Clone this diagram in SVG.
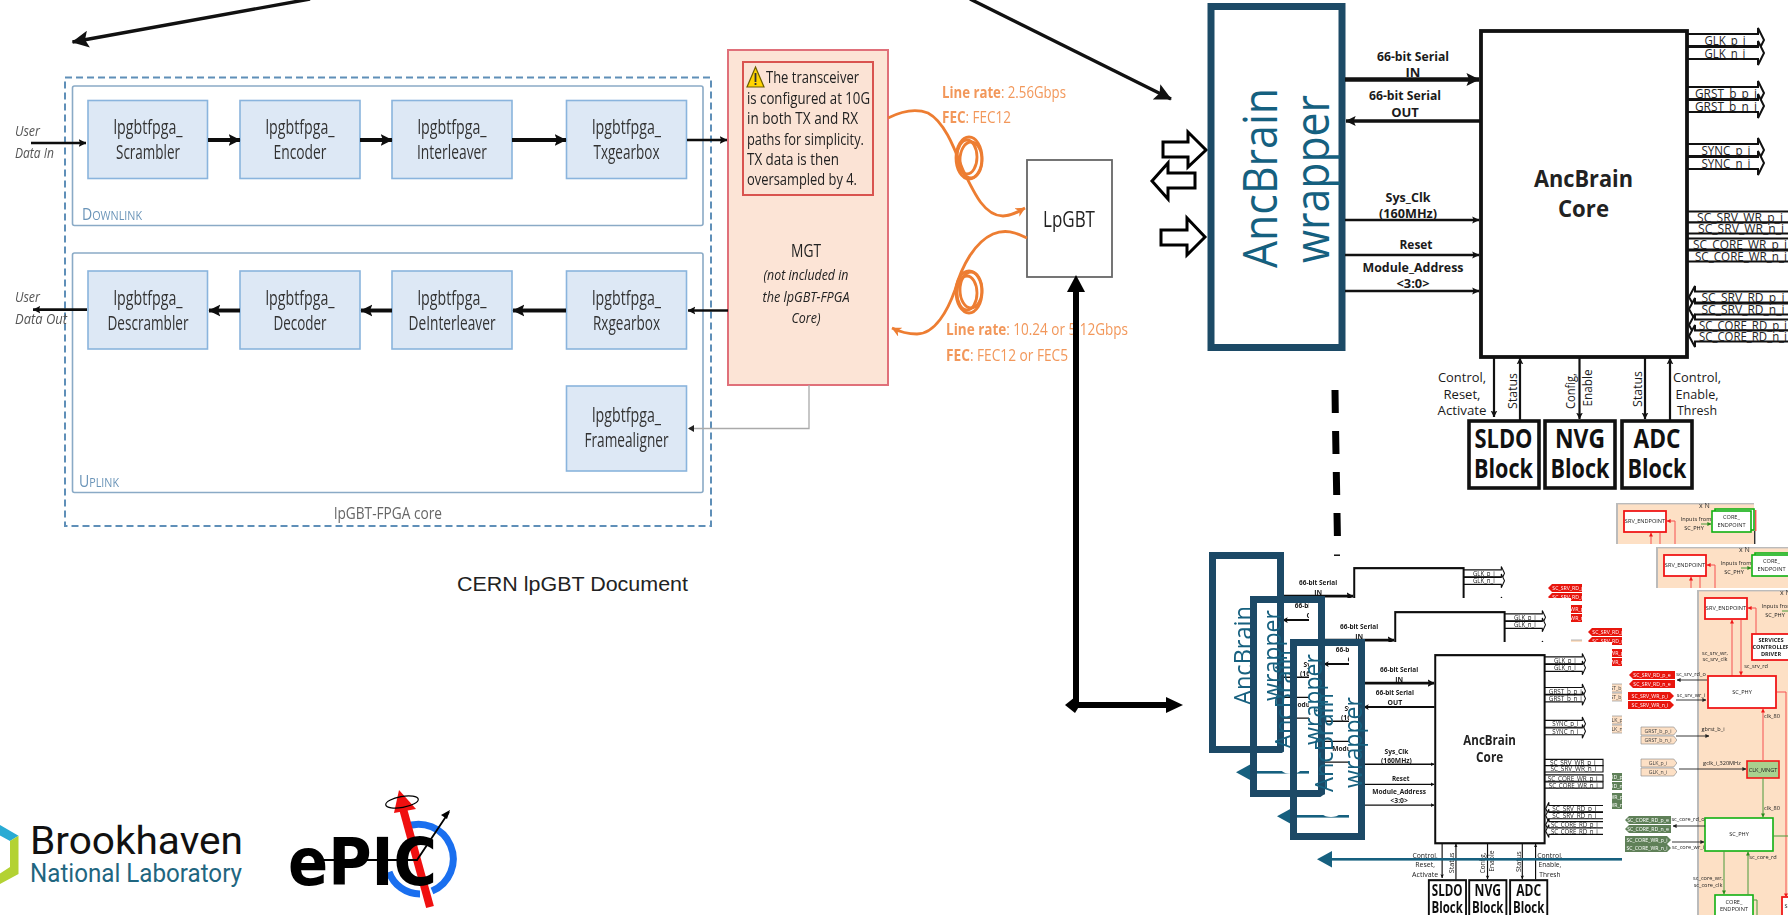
<svg xmlns="http://www.w3.org/2000/svg" width="1788" height="915" viewBox="0 0 1788 915">
<style>
text{font-family:"Open Sans","Liberation Sans",sans-serif;fill:#222}
.m{text-anchor:middle}
.b{font-weight:700}
.i{font-style:italic}
.blk{fill:#dde8f5;stroke:#8ab4dd;stroke-width:1.6}
.blt{font-size:20px;fill:#333;text-anchor:middle}
.arr{stroke:#111;fill:none;stroke-linecap:butt}
.lbl{font-size:13px;font-weight:700;text-anchor:middle;fill:#1a1a1a}
.sig{font-size:12px;text-anchor:middle;fill:#222}
.ha{fill:#fff;stroke:#111;stroke-width:2}
.or{fill:none;stroke:#ed7d31;stroke-width:2.8}
.ort{font-size:16px;fill:#f2975a}
.bk{fill:#fff;stroke:#111;stroke-width:3.6}
.blkt{font-size:27px;font-weight:700;text-anchor:middle;fill:#111}
.wrap{fill:none;stroke:#1c4a66;stroke-width:7}
.wrt{fill:#15607f}
.pn{font-size:5.6px;fill:#222;text-anchor:middle}
.chipt{font-size:5.2px;text-anchor:middle;fill:#fff}
.rd{fill:#fff;stroke:#f01818;stroke-width:1.8}
.gr{fill:#fff;stroke:#12b012;stroke-width:1.6}
.rl{stroke:#f65050;stroke-width:1;fill:none}
.gl{stroke:#4a9a3a;stroke-width:1;fill:none}
.kl{stroke:#222;stroke-width:.9;fill:none}
</style>
<defs>
<filter id="s7" x="-2%" y="-2%" width="104%" height="104%"><feGaussianBlur stdDeviation="0.7"/></filter>
<filter id="s4" x="-2%" y="-2%" width="104%" height="104%"><feGaussianBlur stdDeviation="0.4"/></filter>
<marker id="ah" viewBox="0 0 10 10" refX="9.5" refY="5" markerWidth="3" markerHeight="3.6" orient="auto"><path d="M0,0L10,5L0,10L2,5Z" fill="#111"/></marker>
<marker id="as" viewBox="0 0 10 10" refX="9.5" refY="5" markerWidth="6" markerHeight="5" orient="auto"><path d="M0,0L10,5L0,10L2,5Z" fill="#111"/></marker>
<marker id="ar" viewBox="0 0 10 10" refX="9.5" refY="5" markerWidth="3.5" markerHeight="3.5" orient="auto"><path d="M0,0L10,5L0,10L3,5Z" fill="#ed7d31"/></marker>
<marker id="arr" viewBox="0 0 10 10" refX="9" refY="5" markerWidth="4" markerHeight="4" orient="auto"><path d="M0,0L10,5L0,10Z" fill="#f01818"/></marker>
<marker id="agr" viewBox="0 0 10 10" refX="9" refY="5" markerWidth="4" markerHeight="4" orient="auto"><path d="M0,0L10,5L0,10Z" fill="#2a8a1a"/></marker>
<marker id="akk" viewBox="0 0 10 10" refX="9" refY="5" markerWidth="4.5" markerHeight="4.5" orient="auto"><path d="M0,0L10,5L0,10Z" fill="#222"/></marker>
<path id="haR" d="M0,-6H71V-12L77,0L71,12V6H0"/>
<path id="haW" d="M0,-5.5H110V5.5H0"/>
<path id="haL" d="M110,-5.5H8V-11L2,0L8,11V5.5H110"/>
<path id="chipR" d="M0,-4H42L46,0L42,4H0Z"/>
<path id="chipL" d="M4,-4H46V4H4L0,0Z"/>
</defs>
<rect width="1788" height="915" fill="#fff"/>

<g id="connectors-top">
<line class="arr" x1="310" y1="-1" x2="72.5" y2="42" stroke-width="3.4" marker-end="url(#as)"/>
<line class="arr" x1="970" y1="-1" x2="1171" y2="99" stroke-width="3.4" marker-end="url(#as)"/>
</g>

<g id="lpgbt-fpga" filter="url(#s7)">
<rect id="core-frame" x="65" y="77.5" width="646" height="448.5" fill="none" stroke="#5f8fb8" stroke-width="2" stroke-dasharray="7 4"/>
<rect id="downlink" x="72.5" y="86" width="630.5" height="139.5" rx="2" fill="none" stroke="#8aaac6" stroke-width="1.6"/>
<rect id="uplink" x="72.5" y="253" width="630.5" height="239.5" rx="2" fill="none" stroke="#8aaac6" stroke-width="1.6"/>
<text x="82" y="220" font-size="17" style="fill:#6a94b8" textLength="60" lengthAdjust="spacingAndGlyphs">D<tspan font-size="13">OWNLINK</tspan></text>
<text x="79" y="487" font-size="17" style="fill:#6a94b8" textLength="40" lengthAdjust="spacingAndGlyphs">U<tspan font-size="13">PLINK</tspan></text>
<text class="m" x="388" y="519" font-size="17" style="fill:#666" textLength="108" lengthAdjust="spacingAndGlyphs">lpGBT-FPGA core</text>
<g id="scrambler"><rect class="blk" x="88" y="100.5" width="119.5" height="78"/><text class="blt" x="148" y="134" textLength="69" lengthAdjust="spacingAndGlyphs">lpgbtfpga_</text><text class="blt" x="148" y="159" textLength="64" lengthAdjust="spacingAndGlyphs">Scrambler</text></g>
<g id="encoder"><rect class="blk" x="240" y="100.5" width="120" height="78"/><text class="blt" x="300" y="134" textLength="69" lengthAdjust="spacingAndGlyphs">lpgbtfpga_</text><text class="blt" x="300" y="159" textLength="53" lengthAdjust="spacingAndGlyphs">Encoder</text></g>
<g id="interleaver"><rect class="blk" x="392" y="100.5" width="120" height="78"/><text class="blt" x="452" y="134" textLength="69" lengthAdjust="spacingAndGlyphs">lpgbtfpga_</text><text class="blt" x="452" y="159" textLength="70" lengthAdjust="spacingAndGlyphs">Interleaver</text></g>
<g id="txgearbox"><rect class="blk" x="566.5" y="100.5" width="120" height="78"/><text class="blt" x="626.5" y="134" textLength="69" lengthAdjust="spacingAndGlyphs">lpgbtfpga_</text><text class="blt" x="626.5" y="159" textLength="66" lengthAdjust="spacingAndGlyphs">Txgearbox</text></g>
<g id="descrambler"><rect class="blk" x="88" y="271" width="119.5" height="78"/><text class="blt" x="148" y="305" textLength="69" lengthAdjust="spacingAndGlyphs">lpgbtfpga_</text><text class="blt" x="148" y="329.5" textLength="81" lengthAdjust="spacingAndGlyphs">Descrambler</text></g>
<g id="decoder"><rect class="blk" x="240" y="271" width="120" height="78"/><text class="blt" x="300" y="305" textLength="69" lengthAdjust="spacingAndGlyphs">lpgbtfpga_</text><text class="blt" x="300" y="329.5" textLength="53" lengthAdjust="spacingAndGlyphs">Decoder</text></g>
<g id="deinterleaver"><rect class="blk" x="392" y="271" width="120" height="78"/><text class="blt" x="452" y="305" textLength="69" lengthAdjust="spacingAndGlyphs">lpgbtfpga_</text><text class="blt" x="452" y="329.5" textLength="87" lengthAdjust="spacingAndGlyphs">DeInterleaver</text></g>
<g id="rxgearbox"><rect class="blk" x="566.5" y="271" width="120" height="78"/><text class="blt" x="626.5" y="305" textLength="69" lengthAdjust="spacingAndGlyphs">lpgbtfpga_</text><text class="blt" x="626.5" y="329.5" textLength="67" lengthAdjust="spacingAndGlyphs">Rxgearbox</text></g>
<g id="framealigner"><rect class="blk" x="566.5" y="386" width="120" height="85"/><text class="blt" x="626.5" y="422" textLength="69" lengthAdjust="spacingAndGlyphs">lpgbtfpga_</text><text class="blt" x="626.5" y="447" textLength="84" lengthAdjust="spacingAndGlyphs">Framealigner</text></g>

<g id="mgt">
<rect x="728" y="50" width="160" height="335" fill="#fce4d6" stroke="#e0707a" stroke-width="2"/>
<rect x="743" y="62" width="130" height="133" fill="#fbe3d5" stroke="#d9534f" stroke-width="2"/>
<polygon points="755.5,67 764,87 747,87" fill="#ffd400" stroke="#6b5d00" stroke-width="1.2"/>
<rect x="754.6" y="73" width="1.8" height="9" fill="#333"/><rect x="754.6" y="83" width="1.8" height="2" fill="#333"/>
<text x="766" y="83" font-size="15.5" textLength="93" lengthAdjust="spacingAndGlyphs">The transceiver</text>
<text x="747" y="104" font-size="15.5" textLength="123" lengthAdjust="spacingAndGlyphs">is configured at 10G</text>
<text x="747" y="124" font-size="15.5" textLength="111" lengthAdjust="spacingAndGlyphs">in both TX and RX</text>
<text x="747" y="145" font-size="15.5" textLength="117" lengthAdjust="spacingAndGlyphs">paths for simplicity.</text>
<text x="747" y="165" font-size="15.5" textLength="92" lengthAdjust="spacingAndGlyphs">TX data is then</text>
<text x="747" y="185" font-size="15.5" textLength="110" lengthAdjust="spacingAndGlyphs">oversampled by 4.</text>
<text class="m" x="806" y="257" font-size="18" textLength="30" lengthAdjust="spacingAndGlyphs">MGT</text>
<text class="m i" x="806" y="280" font-size="15" textLength="85" lengthAdjust="spacingAndGlyphs">(not included in</text>
<text class="m i" x="806" y="302" font-size="15" textLength="87" lengthAdjust="spacingAndGlyphs">the lpGBT-FPGA</text>
<text class="m i" x="806" y="323" font-size="15" textLength="29" lengthAdjust="spacingAndGlyphs">Core)</text>
</g>
<g id="lpgbt"><rect x="1027" y="160" width="85" height="117" fill="#fff" stroke="#666" stroke-width="1.8"/><text class="m" x="1069" y="227" font-size="22" textLength="52" lengthAdjust="spacingAndGlyphs">LpGBT</text></g>

<g id="left-labels">
<text class="i" x="15" y="136" font-size="14" style="fill:#555" textLength="25" lengthAdjust="spacingAndGlyphs">User</text>
<text class="i" x="15" y="158" font-size="14" style="fill:#555" textLength="39" lengthAdjust="spacingAndGlyphs">Data In</text>
<text class="i" x="15" y="302" font-size="14" style="fill:#555" textLength="25" lengthAdjust="spacingAndGlyphs">User</text>
<text class="i" x="15" y="324" font-size="14" style="fill:#555" textLength="52" lengthAdjust="spacingAndGlyphs">Data Out</text>
<text class="ort" x="942" y="98" textLength="124" lengthAdjust="spacingAndGlyphs"><tspan font-weight="700">Line rate</tspan>: 2.56Gbps</text>
<text class="ort" x="942" y="123" textLength="69" lengthAdjust="spacingAndGlyphs"><tspan font-weight="700">FEC</tspan>: FEC12</text>
<text class="ort" x="946" y="335" textLength="182" lengthAdjust="spacingAndGlyphs"><tspan font-weight="700">Line rate</tspan>: 10.24 or 5.12Gbps</text>
<text class="ort" x="946" y="361" textLength="122" lengthAdjust="spacingAndGlyphs"><tspan font-weight="700">FEC</tspan>: FEC12 or FEC5</text>
</g>

<g id="connectors-left">
<line class="arr" x1="31" y1="143" x2="86" y2="143" stroke-width="2.6" marker-end="url(#ah)"/>
<line class="arr" x1="208" y1="140" x2="240" y2="140" stroke-width="4" marker-end="url(#ah)"/>
<line class="arr" x1="360" y1="140" x2="392" y2="140" stroke-width="4" marker-end="url(#ah)"/>
<line class="arr" x1="512" y1="140" x2="566" y2="140" stroke-width="4" marker-end="url(#ah)"/>
<line class="arr" x1="687" y1="140" x2="727" y2="140" stroke-width="2.6" marker-end="url(#ah)"/>
<line class="arr" x1="87" y1="309.6" x2="33" y2="309.6" stroke-width="2.6" marker-end="url(#ah)"/>
<line class="arr" x1="240" y1="310.5" x2="209" y2="310.5" stroke-width="4" marker-end="url(#ah)"/>
<line class="arr" x1="392" y1="310.5" x2="361" y2="310.5" stroke-width="4" marker-end="url(#ah)"/>
<line class="arr" x1="566" y1="310.5" x2="513" y2="310.5" stroke-width="4" marker-end="url(#ah)"/>
<line class="arr" x1="728" y1="310.5" x2="688" y2="310.5" stroke-width="2.6" marker-end="url(#ah)"/>
<path d="M809,385V428.5H689" fill="none" stroke="#aaa" stroke-width="1.3"/>
<path d="M688,428.5l6,-3.5v7z" fill="#222"/>
<path class="or" d="M888,118C900,112 915,108 928,113C945,122 955,150 963,170C975,195 985,216 1003,216C1011,216 1018,212 1025,208" marker-end="url(#ar)"/>
<ellipse class="or" cx="969" cy="158" rx="13" ry="21" stroke-width="2"/><ellipse class="or" cx="971" cy="160" rx="11" ry="18" stroke-width="1.4"/><ellipse class="or" cx="967" cy="157" rx="10" ry="17" stroke-width="1.4"/>
<path class="or" d="M1027,238C1015,232 1005,229 993,234C975,242 962,265 955,290C948,310 935,334 917,334C908,334 900,332 892,328" marker-end="url(#ar)"/>
<ellipse class="or" cx="969" cy="292" rx="13" ry="21" stroke-width="2"/><ellipse class="or" cx="971" cy="290" rx="11" ry="18" stroke-width="1.4"/><ellipse class="or" cx="967" cy="293" rx="10" ry="17" stroke-width="1.4"/>
</g>
</g>

<g id="connectors-bus">
<path d="M1076,292V705H1170" fill="none" stroke="#000" stroke-width="6"/>
<polygon points="1076,275 1085,292 1067,292" fill="#000"/>
<polygon points="1166,697 1183,705 1166,713" fill="#000"/>
<polygon points="1065,705 1075,697 1080,705 1075,713" fill="#000"/>
<path d="M1163,142H1188V132L1206,150L1188,167V157H1163Z" fill="#fff" stroke="#000" stroke-width="3"/>
<path d="M1195,173H1168V163L1152,181L1168,199V188H1195Z" fill="#fff" stroke="#000" stroke-width="3"/>
<path d="M1161,230H1187V218L1205,237L1187,255V245H1161Z" fill="#fff" stroke="#000" stroke-width="3"/>
<path d="M1335,390L1335.3,413M1335.6,431L1336,454M1336.3,472L1336.7,495M1337,513L1337.4,536" stroke="#000" stroke-width="7" fill="none"/>
<rect x="1334" y="554.5" width="6" height="1.4" fill="#000"/>
</g>

<g id="wrapper"><rect class="wrap" x="1211" y="6.5" width="131" height="341"/>
<text class="wrt" transform="translate(1277,178) rotate(-90)" text-anchor="middle" font-size="47" textLength="180" lengthAdjust="spacingAndGlyphs">AncBrain</text>
<text class="wrt" transform="translate(1329,179) rotate(-90)" text-anchor="middle" font-size="47" textLength="168" lengthAdjust="spacingAndGlyphs">wrapper</text>
</g>

<g id="anc-block">
<g id="anc-connectors">
<line class="arr" x1="1345" y1="79.5" x2="1479" y2="79.5" stroke-width="4.4" marker-end="url(#ah)"/>
<line class="arr" x1="1480" y1="121" x2="1346" y2="121" stroke-width="3.4" marker-end="url(#ah)"/>
<line class="arr" x1="1345" y1="220" x2="1479" y2="220" stroke-width="2.4" marker-end="url(#ah)"/>
<line class="arr" x1="1345" y1="255" x2="1479" y2="255" stroke-width="2.4" marker-end="url(#ah)"/>
<line class="arr" x1="1345" y1="291" x2="1479" y2="291" stroke-width="2.4" marker-end="url(#ah)"/>
<line class="arr" x1="1494" y1="358" x2="1494" y2="417" stroke-width="2.2" marker-end="url(#ah)"/>
<line class="arr" x1="1520" y1="420" x2="1520" y2="358" stroke-width="2.2" marker-end="url(#ah)"/>
<line class="arr" x1="1579.5" y1="358" x2="1579.5" y2="419" stroke-width="2.2" marker-end="url(#ah)"/>
<line class="arr" x1="1645" y1="358" x2="1645" y2="419" stroke-width="2.2" marker-end="url(#ah)"/>
<line class="arr" x1="1670" y1="420" x2="1670" y2="358" stroke-width="2.2" marker-end="url(#ah)"/>
<use class="ha" href="#haR" transform="translate(1687,40)"/><use class="ha" href="#haR" transform="translate(1687,53)"/>
<use class="ha" href="#haR" transform="translate(1687,93)"/><use class="ha" href="#haR" transform="translate(1687,106)"/>
<use class="ha" href="#haR" transform="translate(1687,150)"/><use class="ha" href="#haR" transform="translate(1687,163)"/>
<use class="ha" href="#haW" transform="translate(1687,217)"/><use class="ha" href="#haW" transform="translate(1687,228)"/>
<use class="ha" href="#haW" transform="translate(1687,244)"/><use class="ha" href="#haW" transform="translate(1687,256)"/>
<use class="ha" href="#haL" transform="translate(1687,297)"/><use class="ha" href="#haL" transform="translate(1687,309)"/>
<use class="ha" href="#haL" transform="translate(1687,325)"/><use class="ha" href="#haL" transform="translate(1687,336)"/>
</g>
<g id="anc-core"><rect x="1481" y="31" width="206" height="326" fill="#fff" stroke="#111" stroke-width="3.8"/>
<text class="m b" x="1583.5" y="187" font-size="24" textLength="99" lengthAdjust="spacingAndGlyphs">AncBrain</text>
<text class="m b" x="1583.5" y="217" font-size="24" textLength="51" lengthAdjust="spacingAndGlyphs">Core</text></g>
<g id="anc-labels">
<text class="lbl" x="1413" y="61" textLength="72" lengthAdjust="spacingAndGlyphs">66-bit Serial</text><text class="lbl" x="1413" y="77">IN</text>
<text class="lbl" x="1405" y="100" textLength="72" lengthAdjust="spacingAndGlyphs">66-bit Serial</text><text class="lbl" x="1405" y="117">OUT</text>
<text class="lbl" x="1408" y="202" textLength="45" lengthAdjust="spacingAndGlyphs">Sys_Clk</text><text class="lbl" x="1408" y="218" textLength="58" lengthAdjust="spacingAndGlyphs">(160MHz)</text>
<text class="lbl" x="1416" y="249" textLength="33" lengthAdjust="spacingAndGlyphs">Reset</text>
<text class="lbl" x="1413" y="272" textLength="101" lengthAdjust="spacingAndGlyphs">Module_Address</text><text class="lbl" x="1413" y="288" textLength="33" lengthAdjust="spacingAndGlyphs">&lt;3:0&gt;</text>
<text class="sig" x="1725" y="44.5" textLength="41" lengthAdjust="spacingAndGlyphs">GLK_p_i</text><text class="sig" x="1725" y="57.5" textLength="41" lengthAdjust="spacingAndGlyphs">GLK_n_i</text>
<text class="sig" x="1726" y="97.5" textLength="62" lengthAdjust="spacingAndGlyphs">GRST_b_p_i</text><text class="sig" x="1726" y="110.5" textLength="62" lengthAdjust="spacingAndGlyphs">GRST_b_n_i</text>
<text class="sig" x="1726" y="154.5" textLength="49" lengthAdjust="spacingAndGlyphs">SYNC_p_i</text><text class="sig" x="1726" y="167.5" textLength="49" lengthAdjust="spacingAndGlyphs">SYNC_n_i</text>
<text class="sig" x="1740" y="221.5" textLength="86" lengthAdjust="spacingAndGlyphs">SC_SRV_WR_p_i</text><text class="sig" x="1741" y="232.5" textLength="86" lengthAdjust="spacingAndGlyphs">SC_SRV_WR_n_i</text>
<text class="sig" x="1740" y="248.5" textLength="94" lengthAdjust="spacingAndGlyphs">SC_CORE_WR_p_i</text><text class="sig" x="1741" y="260.5" textLength="92" lengthAdjust="spacingAndGlyphs">SC_CORE_WR_n_i</text>
<text class="sig" x="1743" y="301.5" textLength="83" lengthAdjust="spacingAndGlyphs">SC_SRV_RD_p_i</text><text class="sig" x="1743" y="313.5" textLength="83" lengthAdjust="spacingAndGlyphs">SC_SRV_RD_n_i</text>
<text class="sig" x="1743" y="329.5" textLength="88" lengthAdjust="spacingAndGlyphs">SC_CORE_RD_p_i</text><text class="sig" x="1743" y="340.5" textLength="88" lengthAdjust="spacingAndGlyphs">SC_CORE_RD_n_i</text>
<text class="lbl" style="font-weight:400" x="1462" y="382" textLength="48" lengthAdjust="spacingAndGlyphs">Control,</text><text class="lbl" style="font-weight:400" x="1462" y="399" textLength="37" lengthAdjust="spacingAndGlyphs">Reset,</text><text class="lbl" style="font-weight:400" x="1462" y="415" textLength="49" lengthAdjust="spacingAndGlyphs">Activate</text>
<text class="lbl" style="font-weight:400" x="1697" y="382" textLength="48" lengthAdjust="spacingAndGlyphs">Control,</text><text class="lbl" style="font-weight:400" x="1697" y="399" textLength="43" lengthAdjust="spacingAndGlyphs">Enable,</text><text class="lbl" style="font-weight:400" x="1697" y="415" textLength="40" lengthAdjust="spacingAndGlyphs">Thresh</text>
<text class="lbl" style="font-weight:400" transform="translate(1517,391) rotate(-90)" textLength="36" lengthAdjust="spacingAndGlyphs">Status</text>
<text class="lbl" style="font-weight:400" transform="translate(1575,391) rotate(-90)" textLength="36" lengthAdjust="spacingAndGlyphs">Config,</text>
<text class="lbl" style="font-weight:400" transform="translate(1592,388) rotate(-90)" textLength="37" lengthAdjust="spacingAndGlyphs">Enable</text>
<text class="lbl" style="font-weight:400" transform="translate(1642,389) rotate(-90)" textLength="36" lengthAdjust="spacingAndGlyphs">Status</text>
</g>
<g id="sldo"><rect class="bk" x="1469" y="421" width="70" height="67"/><text class="blkt" x="1503.5" y="448" textLength="58" lengthAdjust="spacingAndGlyphs">SLDO</text><text class="blkt" x="1503.5" y="478" textLength="59" lengthAdjust="spacingAndGlyphs">Block</text></g>
<g id="nvg"><rect class="bk" x="1545" y="421" width="70" height="67"/><text class="blkt" x="1580" y="448" textLength="50" lengthAdjust="spacingAndGlyphs">NVG</text><text class="blkt" x="1580" y="478" textLength="59" lengthAdjust="spacingAndGlyphs">Block</text></g>
<g id="adc"><rect class="bk" x="1622" y="421" width="70" height="67"/><text class="blkt" x="1657" y="448" textLength="47" lengthAdjust="spacingAndGlyphs">ADC</text><text class="blkt" x="1657" y="478" textLength="59" lengthAdjust="spacingAndGlyphs">Block</text></g>
</g>

<defs>
<g id="sliceL">
<ellipse cx="1331" cy="805" rx="14" ry="12" fill="#fff"/>
<use href="#anc-block" transform="translate(1290,639) scale(.531,.577) translate(-1207.5,-3)"/>
<rect class="wrap" x="1293.5" y="642.5" width="68" height="194"/>
<text class="wrt" transform="translate(1333,742.5) rotate(-90)" text-anchor="middle" font-size="26" textLength="99" lengthAdjust="spacingAndGlyphs">AncBrain</text>
<text class="wrt" transform="translate(1362,742.5) rotate(-90)" text-anchor="middle" font-size="26" textLength="91" lengthAdjust="spacingAndGlyphs">wrapper</text>
<rect x="1328" y="858" width="294" height="2.6" fill="#15607f"/>
<polygon points="1317,859.3 1332,851 1332,867.5" fill="#15607f"/>
</g>
<g id="sliceR">
<rect x="1697" y="590" width="138" height="330" fill="#fde0c5"/>
<rect x="1697" y="590" width="2" height="330" fill="#bbb"/><rect x="1697" y="590" width="138" height="1.4" fill="#bbb"/>
<rect x="1835" y="618" width="1.4" height="14" fill="#333"/><rect x="1836" y="597" width="1.4" height="21" fill="#f65050"/>
<rect x="1705" y="598" width="42" height="21" class="rd"/><text class="pn" x="1726" y="610">SRV_ENDPOINT</text>
<rect x="1796" y="596" width="39" height="21" class="gr"/><rect x="1793" y="598" width="39" height="21" class="gr"/><text class="pn" x="1812.5" y="606">CORE_</text><text class="pn" x="1812.5" y="614">ENDPOINT</text>
<text x="1780" y="595" font-size="7" style="fill:#333">x N</text>
<text class="pn" x="1777" y="608">Inputs from</text><text class="pn" x="1775" y="617">SC_PHY</text>
<path class="gl" d="M1782,611H1792" marker-end="url(#agr)"/>
<path class="rl" d="M1732,676V620" marker-end="url(#arr)"/><path class="rl" d="M1741,620V675" marker-end="url(#arr)"/>
<path class="rl" d="M1756,633V608H1748" marker-end="url(#arr)"/>
<text class="pn" x="1715" y="655">sc_srv_wr,</text><text class="pn" x="1715" y="661">sc_srv_clk</text><text class="pn" x="1756" y="668">sc_srv_rd</text>
<rect x="1752" y="634" width="50" height="26" class="rd"/><text class="pn" x="1771" y="642" font-weight="700">SERVICES</text><text class="pn" x="1771" y="649" font-weight="700">CONTROLLER</text><text class="pn" x="1771" y="656" font-weight="700">DRIVER</text>
<rect x="1708" y="676" width="68" height="32" class="rd"/><text class="pn" x="1742" y="694">SC_PHY</text>
<rect x="1747" y="761" width="32" height="17" fill="#a9d18e" stroke="#f01818" stroke-width="1.6"/><text class="pn" x="1763" y="772" font-size="5">CLK_MNGT</text>
<rect x="1705" y="818" width="68" height="33" class="gr"/><text class="pn" x="1739" y="836">SC_PHY</text>
<rect x="1715" y="895" width="38" height="24" class="gr"/><text class="pn" x="1734" y="904">CORE_</text><text class="pn" x="1734" y="911">ENDPOINT</text>
<rect x="1782" y="897" width="12" height="22" class="rd"/><text class="pn" x="1786" y="908">S</text>
<path class="rl" d="M1763,761V709" marker-end="url(#arr)"/><path class="gl" d="M1763,778V817" marker-end="url(#agr)"/>
<path class="rl" d="M1786,692H1777M1786,692V897" marker-end="url(#arr)"/>
<path class="gl" d="M1773,836H1790"/><path class="gl" d="M1753,900H1757V915"/>
<path class="gl" d="M1724,851V894" marker-end="url(#agr)"/><path class="gl" d="M1748,895V852" marker-end="url(#agr)" stroke-width="1.4"/>
<text class="pn" x="1772" y="718">clk_80</text><text class="pn" x="1772" y="810">clk_80</text>
<text class="pn" x="1763" y="859">sc_core_rd</text><text class="pn" x="1708" y="880">sc_core_wr,</text><text class="pn" x="1708" y="887">sc_core_clk</text>
<use href="#chipL" fill="#e8120e" transform="translate(1629,675)"/><text class="chipt" x="1652" y="677">SC_SRV_RD_p_e</text>
<use href="#chipL" fill="#e8120e" transform="translate(1629,684)"/><text class="chipt" x="1652" y="686">SC_SRV_RD_n_e</text>
<use href="#chipR" fill="#e8120e" transform="translate(1628,696)"/><text class="chipt" x="1650" y="698">SC_SRV_WR_p_i</text>
<use href="#chipR" fill="#e8120e" transform="translate(1628,705)"/><text class="chipt" x="1650" y="707">SC_SRV_WR_n_i</text>
<use href="#chipR" fill="#fde0c5" stroke="#888" stroke-width=".7" transform="translate(1641,731) scale(.78,1)"/><text class="chipt" style="fill:#444" x="1658" y="733">GRST_b_p_i</text>
<use href="#chipR" fill="#fde0c5" stroke="#888" stroke-width=".7" transform="translate(1641,740) scale(.78,1)"/><text class="chipt" style="fill:#444" x="1658" y="742">GRST_b_n_i</text>
<use href="#chipR" fill="#fde0c5" stroke="#888" stroke-width=".7" transform="translate(1641,763) scale(.78,1)"/><text class="chipt" style="fill:#444" x="1658" y="765">GLK_p_i</text>
<use href="#chipR" fill="#fde0c5" stroke="#888" stroke-width=".7" transform="translate(1641,772) scale(.78,1)"/><text class="chipt" style="fill:#444" x="1658" y="774">GLK_n_i</text>
<use href="#chipL" fill="#5f8058" transform="translate(1625,820)"/><text class="chipt" x="1648" y="822">SC_CORE_RD_p_e</text>
<use href="#chipL" fill="#5f8058" transform="translate(1625,829)"/><text class="chipt" x="1648" y="831">SC_CORE_RD_n_e</text>
<use href="#chipR" fill="#5f8058" transform="translate(1625,840)"/><text class="chipt" x="1647" y="842">SC_CORE_WR_p_i</text>
<use href="#chipR" fill="#5f8058" transform="translate(1625,848)"/><text class="chipt" x="1647" y="850">SC_CORE_WR_n_i</text>
<path class="kl" d="M1707,680H1677" marker-end="url(#akk)"/><text class="pn" x="1691" y="676">sc_srv_rd_o</text>
<path class="kl" d="M1676,700H1706" marker-end="url(#akk)"/><text class="pn" x="1691" y="697">sc_srv_wr_i</text>
<path class="kl" d="M1676,736H1709" marker-end="url(#akk)"/><text class="pn" x="1713" y="731">gbrst_b_i</text>
<path class="kl" d="M1679,769H1746" marker-end="url(#akk)"/><text class="pn" x="1722" y="765">gclk_i_320MHz</text>
<path class="kl" d="M1705,826H1673" marker-end="url(#akk)"/><text class="pn" x="1688" y="821">sc_core_rd_o</text>
<path class="kl" d="M1672,842H1704" marker-end="url(#akk)"/><text class="pn" x="1688" y="849">sc_core_wr_i</text>
</g>
</defs>

<g id="stack" filter="url(#s4)">
<g id="layer1"><use href="#sliceL" transform="translate(-81,-87)"/><use href="#sliceR" transform="translate(-81,-87)"/></g>
<rect x="1309" y="598" width="262" height="317" fill="#fff"/><rect x="1582" y="544" width="206" height="371" fill="#fff"/>
<g id="layer2"><use href="#sliceL" transform="translate(-40,-43)"/><use href="#sliceR" transform="translate(-41,-43)"/></g>
<rect x="1349" y="642" width="263" height="273" fill="#fff"/><rect x="1622" y="588" width="166" height="327" fill="#fff"/>
<g id="layer3"><use href="#sliceL"/><use href="#sliceR"/></g>
</g>

<text id="caption" class="m" x="572.5" y="591" font-size="20" style="font-family:'Liberation Sans',sans-serif" textLength="231" lengthAdjust="spacingAndGlyphs">CERN lpGBT Document</text>

<g id="bnl-logo">
<path d="M0,825L18.5,835.7L10,841L0,835.5Z" fill="#29abd4"/>
<path d="M18.5,835.7V874L0,884V873.5L10,867V841Z" fill="#b3d233"/>
<text x="30" y="854" font-size="38" style="font-family:Roboto,sans-serif;fill:#111" textLength="213" lengthAdjust="spacingAndGlyphs">Brookhaven</text>
<text x="30" y="882" font-size="25" style="font-family:Roboto,sans-serif;fill:#1f6680" textLength="212" lengthAdjust="spacingAndGlyphs">National Laboratory</text>
</g>
<g id="epic-logo">
<path d="M405,827A33,33 0 1 1 432,891" fill="none" stroke="#1a6fef" stroke-width="7"/>
<path d="M389,872A33,33 0 0 0 420,894" fill="none" stroke="#1a6fef" stroke-width="7"/>
<line x1="430" y1="907" x2="402" y2="805" stroke="#f01010" stroke-width="8"/>
<polygon points="399,790 416,809 394,813" fill="#f01010"/>
<text x="288" y="885" font-size="66" font-weight="700" style="font-family:'DejaVu Sans',sans-serif;fill:#000" textLength="149" lengthAdjust="spacingAndGlyphs">ePIC</text>
<path d="M323,860H417L449,812" fill="none" stroke="#000" stroke-width="1.8"/>
<path d="M450,810l-9,5 6,4z" fill="#000"/>
<ellipse cx="402" cy="802" rx="16.5" ry="5.5" transform="rotate(-10 402 802)" fill="none" stroke="#000" stroke-width="1.2"/>
</g>
</svg>
